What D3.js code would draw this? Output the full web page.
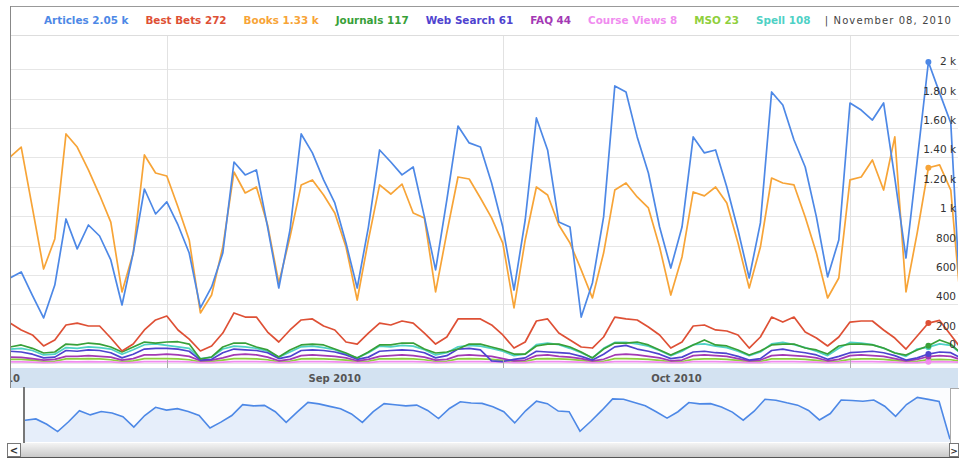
<!DOCTYPE html>
<html>
<head>
<meta charset="utf-8">
<script src="https://cdn.jsdelivr.net/npm/d3@7"></script>
<style>
body { margin: 0; background: #fff; }
svg { display: block; font-family: "DejaVu Sans", Verdana, sans-serif; }
</style>
</head>
<body>
<div id="container"></div>
<script>
let w = 959;
let h = 462;

// daily values, one row per week (Wed .. Tue), Aug 18 - Nov 11 2010
let articles = [579, 620, 460, 307, 531, 981, 777,
  940, 865, 702, 395, 749, 1185, 1015,
  1097, 940, 749, 375, 518, 749, 1369,
  1281, 1315, 926, 511, 906, 1560, 1431,
  1247, 1090, 817, 511, 926, 1451, 1369,
  1281, 1335, 995, 634, 1110, 1614, 1499,
  1471, 1226, 926, 497, 974, 1669, 1451,
  960, 926, 313, 545, 995, 1887, 1846,
  1540, 1294, 926, 647, 926, 1540, 1431,
  1451, 1199, 906, 579, 954, 1846, 1757,
  1519, 1335, 995, 586, 838, 1771, 1723,
  1655, 1771, 1260, 715, 1380, 2050, 1840,
  1635, 200];
let bestBets = [272, 225, 191, 116, 157, 259, 272,
  252, 252, 170, 82, 129, 225, 293,
  320, 225, 163, 82, 116, 204, 341,
  313, 313, 211, 143, 225, 293, 300,
  252, 225, 143, 129, 204, 272, 259,
  286, 272, 204, 129, 177, 300, 300,
  300, 259, 191, 102, 143, 286, 300,
  204, 157, 109, 102, 177, 313, 300,
  293, 245, 191, 102, 143, 252, 259,
  225, 218, 191, 102, 177, 313, 279,
  313, 211, 170, 116, 177, 279, 286,
  286, 225, 170, 95, 184, 272, 290,
  191, 90];
let books = [1403, 1471, 1056, 640, 845, 1560, 1471,
  1315, 1144, 960, 484, 749, 1417, 1294,
  1274, 1063, 838, 341, 463, 790, 1301,
  1158, 1199, 940, 545, 858, 1213, 1247,
  1144, 1022, 790, 429, 838, 1213, 1151,
  1219, 1022, 988, 484, 886, 1267, 1253,
  1124, 988, 817, 375, 838, 1199, 1144,
  940, 817, 634, 443, 749, 1178, 1226,
  1131, 1056, 790, 463, 722, 1165, 1138,
  1199, 1090, 817, 511, 790, 1260, 1226,
  1213, 995, 749, 443, 579, 1247, 1267,
  1383, 1178, 1540, 484, 886, 1330, 1349,
  1178, 300];
let journals = [109, 123, 100, 68, 75, 129, 123,
  136, 129, 109, 75, 109, 143, 136,
  143, 145, 129, 27, 41, 109, 136,
  136, 109, 89, 41, 89, 123, 129,
  123, 95, 68, 34, 75, 123, 123,
  136, 136, 95, 68, 75, 95, 129,
  129, 109, 89, 61, 61, 116, 129,
  129, 109, 75, 34, 95, 136, 136,
  143, 123, 89, 54, 89, 123, 157,
  123, 116, 89, 54, 82, 123, 129,
  129, 102, 89, 61, 116, 129, 129,
  123, 102, 68, 54, 89, 117, 157,
  129, 60];
let webSearch = [80, 75, 60, 35, 40, 85, 80,
  90, 85, 70, 35, 60, 95, 100,
  100, 95, 80, 20, 25, 70, 95,
  90, 85, 70, 30, 45, 85, 90,
  85, 75, 55, 25, 40, 80, 85,
  90, 85, 70, 35, 50, 95, 100,
  90, 15, 10, 25, 35, 80, 75,
  70, 65, 45, 20, 60, 110, 120,
  95, 80, 60, 30, 40, 75, 80,
  70, 65, 45, 20, 30, 85, 95,
  80, 70, 55, 25, 45, 70, 75,
  80, 70, 50, 20, 35, 61, 75,
  70, 30];
let faq = [40, 38, 30, 20, 25, 45, 45,
  50, 45, 40, 20, 30, 55, 55,
  60, 55, 45, 15, 20, 35, 55,
  60, 55, 40, 15, 25, 50, 55,
  50, 45, 35, 15, 25, 45, 50,
  55, 50, 40, 20, 25, 50, 55,
  50, 45, 30, 15, 20, 50, 55,
  45, 40, 30, 15, 25, 55, 60,
  55, 45, 35, 15, 20, 50, 55,
  50, 45, 30, 15, 20, 50, 55,
  50, 45, 35, 15, 25, 50, 55,
  50, 45, 30, 15, 25, 44, 50,
  45, 20];
let courseViews = [8, 7, 6, 3, 4, 9, 8,
  9, 8, 7, 3, 4, 10, 9,
  10, 9, 7, 2, 3, 6, 9,
  10, 9, 7, 3, 4, 9, 10,
  9, 8, 6, 2, 3, 9, 9,
  10, 9, 7, 3, 4, 9, 10,
  9, 8, 6, 2, 3, 10, 9,
  9, 8, 6, 2, 4, 10, 10,
  9, 8, 6, 2, 3, 9, 9,
  9, 8, 6, 2, 3, 9, 10,
  9, 8, 6, 3, 4, 9, 9,
  9, 8, 6, 2, 3, 8, 9,
  8, 4];
let mso = [25, 25, 20, 10, 12, 28, 28,
  30, 28, 22, 10, 15, 30, 30,
  30, 28, 22, 8, 10, 20, 30,
  30, 28, 22, 8, 12, 28, 30,
  28, 25, 20, 8, 12, 28, 28,
  30, 28, 22, 10, 12, 28, 30,
  28, 25, 18, 8, 10, 28, 30,
  28, 25, 18, 8, 12, 30, 30,
  28, 25, 18, 8, 10, 25, 28,
  28, 25, 18, 8, 10, 28, 28,
  28, 25, 18, 8, 12, 25, 28,
  28, 25, 18, 8, 12, 23, 25,
  22, 10];
let spell = [95, 100, 85, 55, 60, 105, 100,
  110, 105, 95, 60, 90, 125, 130,
  120, 110, 100, 30, 40, 95, 115,
  110, 100, 80, 40, 75, 110, 115,
  105, 90, 60, 35, 70, 115, 110,
  120, 115, 90, 55, 70, 110, 120,
  115, 100, 80, 50, 60, 125, 135,
  125, 100, 70, 35, 100, 140, 140,
  130, 115, 85, 50, 80, 125, 130,
  115, 105, 80, 50, 75, 130, 140,
  125, 105, 80, 50, 100, 140, 135,
  125, 100, 70, 45, 95, 108, 130,
  120, 60];

let seriesNames = ["Articles", "Best Bets", "Books", "Journals", "Web Search", "FAQ", "Course Views", "MSO", "Spell"];
let seriesColors = ["#4d88e6", "#de5035", "#f7a437", "#38a038", "#4f43cf", "#a339b4", "#f08cef", "#8fcf3c", "#4fd1c5"];
let seriesValues = [articles, bestBets, books, journals, webSearch, faq, courseViews, mso, spell];

let yTicks = [0, 200, 400, 600, 800, 1000, 1200, 1400, 1600, 1800, 2000];
let yTickLabels = ["0", "200", "400", "600", "800", "1 k", "1.20 k", "1.40 k", "1.60 k", "1.80 k", "2 k"];

let firstDay = new Date(Date.UTC(2010, 7, 18));
let endDay = new Date(Date.UTC(2010, 10, 12));
let selectedDay = new Date(Date.UTC(2010, 10, 8));
let days = d3.utcDay.range(firstDay, endDay);
let selIndex = days.findIndex(d => +d === +selectedDay);

let plotLeft = 10, plotRight = 958, plotTop = 36, plotBottom = 368;

let viz = d3.select("#container")
  .append("svg")
    .attr("width", w)
    .attr("height", h)
    .style("background-color", "white");

let xScale = d3.scaleUtc().domain([firstDay, endDay]).range([plotLeft, plotLeft + days.length * 11.2]);
let yScale = d3.scaleLinear().domain([0, 2200]).range([363, 40]);

function fmtValue(v) {
  if (v >= 1000) {
    let k = v / 1000;
    return (Number.isInteger(k) ? k : k.toFixed(2)) + " k";
  }
  return String(v);
}

// legend box frame
viz.append("line").attr("x1", plotLeft).attr("x2", w).attr("y1", 6.5).attr("y2", 6.5).attr("stroke", "#999");
viz.append("line").attr("x1", plotLeft).attr("x2", w).attr("y1", 35.5).attr("y2", 35.5).attr("stroke", "#ddd");

// gridlines
viz.append("g").selectAll("line").data(yTicks).enter()
  .append("line")
    .attr("x1", plotLeft).attr("x2", plotRight)
    .attr("y1", d => Math.round(yScale(d)) + 0.5)
    .attr("y2", d => Math.round(yScale(d)) + 0.5)
    .attr("stroke", "#e6e6e6");

let monthStarts = d3.utcMonth.range(new Date(Date.UTC(2010, 7, 1)), new Date(Date.UTC(2010, 11, 1)));
let innerMonths = monthStarts.filter(m => xScale(m) > plotLeft && xScale(m) < plotRight);
viz.append("g").selectAll("line").data(innerMonths).enter()
  .append("line")
    .attr("x1", d => Math.round(xScale(d)) + 0.5).attr("x2", d => Math.round(xScale(d)) + 0.5)
    .attr("y1", plotTop).attr("y2", plotBottom)
    .attr("stroke", "#e2e2e2");

// clip for the lines
viz.append("clipPath").attr("id", "plotclip")
  .append("rect").attr("x", plotLeft).attr("y", plotTop).attr("width", plotRight - plotLeft).attr("height", plotBottom - plotTop);

let line = d3.line()
  .x((v, i) => xScale(days[i]))
  .y(v => yScale(v));

let order = d3.range(seriesNames.length).reverse();
let lines = viz.append("g").attr("clip-path", "url(#plotclip)");
lines.selectAll("path").data(order).enter()
  .append("path")
    .attr("d", i => line(seriesValues[i]))
    .attr("fill", "none")
    .attr("stroke", i => seriesColors[i])
    .attr("stroke-width", 1.7)
    .attr("stroke-linejoin", "round");

// y labels on the right
viz.append("g").selectAll("text").data(yTicks).enter()
  .append("text")
    .attr("x", 956)
    .attr("y", d => Math.min(yScale(d) - 4, 348))
    .attr("text-anchor", "end")
    .attr("font-size", 10.5)
    .attr("fill", "#333")
    .text((d, i) => yTickLabels[i]);

// dots for the selected day
lines.selectAll("circle").data(order).enter()
  .append("circle")
    .attr("cx", xScale(selectedDay))
    .attr("cy", i => yScale(seriesValues[i][selIndex]))
    .attr("r", 3)
    .attr("fill", i => seriesColors[i]);

// month ticks
viz.append("g").selectAll("line").data(innerMonths).enter()
  .append("line")
    .attr("x1", d => Math.round(xScale(d)) + 0.5).attr("x2", d => Math.round(xScale(d)) + 0.5)
    .attr("y1", 360).attr("y2", 369)
    .attr("stroke", "#aaa");

// x axis band
viz.append("rect").attr("x", plotLeft).attr("y", 368).attr("width", plotRight - plotLeft).attr("height", 20).attr("fill", "#d3e2f1");
viz.append("clipPath").attr("id", "bandclip")
  .append("rect").attr("x", plotLeft).attr("y", 368).attr("width", plotRight - plotLeft).attr("height", 20);
let monthMid = d => xScale(new Date((+d + +d3.utcMonth.offset(d, 1)) / 2));
viz.append("g").attr("clip-path", "url(#bandclip)")
  .selectAll("text").data(monthStarts.filter(d => monthMid(d) < plotRight)).enter()
  .append("text")
    .attr("x", monthMid)
    .attr("y", 382)
    .attr("text-anchor", "middle")
    .attr("font-size", 10)
    .attr("font-weight", "bold")
    .attr("fill", "#555")
    .text(d3.utcFormat("%b %Y"));

viz.append("line").attr("x1", plotLeft + 0.5).attr("x2", plotLeft + 0.5).attr("y1", 6).attr("y2", 388).attr("stroke", "#888");

// overview (range selector)
let mx = d3.scaleUtc().domain([days[0], days[days.length - 1]]).range([25, 950]);
let my = d3.scaleLog().domain([300, 2100]).range([432, 397]);
viz.append("rect").attr("x", 25).attr("y", 388).attr("width", 925).attr("height", 54).attr("fill", "#fbfcfe");
viz.append("path")
  .attr("d", d3.area().x((v, i) => mx(days[i])).y0(442).y1(v => my(v))(articles))
  .attr("fill", "#e6eefa");
viz.append("path")
  .attr("d", d3.line().x((v, i) => mx(days[i])).y(v => my(v))(articles))
  .attr("fill", "none")
  .attr("stroke", "#4d88e6")
  .attr("stroke-width", 1.6);
viz.append("line").attr("x1", 24).attr("x2", 24).attr("y1", 387).attr("y2", 447).attr("stroke", "#777").attr("stroke-width", 2);
viz.append("rect").attr("x", 950.5).attr("y", 388.5).attr("width", 10).attr("height", 56).attr("fill", "white").attr("stroke", "#aaa");

// scrollbar
let grad = viz.append("defs").append("linearGradient").attr("id", "sb").attr("x1", 0).attr("x2", 0).attr("y1", 0).attr("y2", 1);
grad.append("stop").attr("offset", "0%").attr("stop-color", "#f4f4f4");
grad.append("stop").attr("offset", "100%").attr("stop-color", "#c9c9c9");
viz.append("rect").attr("x", 7).attr("y", 443).attr("width", 952).attr("height", 14).attr("fill", "url(#sb)");
viz.append("line").attr("x1", 7).attr("x2", w).attr("y1", 457.5).attr("y2", 457.5).attr("stroke", "#555");
viz.append("rect").attr("x", 7.5).attr("y", 443.5).attr("width", 13).attr("height", 13).attr("fill", "white").attr("stroke", "#777");
viz.append("text").attr("x", 14).attr("y", 454).attr("text-anchor", "middle").attr("font-size", 10).attr("font-weight", "bold").attr("fill", "#333").text("<");
viz.append("rect").attr("x", 949.5).attr("y", 443.5).attr("width", 9).attr("height", 13).attr("fill", "white").attr("stroke", "#777");
viz.append("text").attr("x", 954).attr("y", 453.5).attr("text-anchor", "middle").attr("font-size", 9).attr("font-weight", "bold").attr("fill", "#333").text(">");

// legend
let lx = 44;
seriesNames.forEach((name, i) => {
  let t = viz.append("text")
    .attr("x", lx)
    .attr("y", 24)
    .attr("font-size", 10.4)
    .attr("font-weight", "bold")
    .attr("fill", seriesColors[i])
    .text(name + " " + fmtValue(seriesValues[i][selIndex]));
  lx += t.node().getComputedTextLength() + 17;
});
viz.append("text")
  .attr("x", 952)
  .attr("y", 24)
  .attr("text-anchor", "end")
  .attr("font-size", 10)
  .attr("letter-spacing", 1.1)
  .attr("fill", "#444")
  .text("| " + d3.utcFormat("%B %d, %Y")(selectedDay));
</script>
</body>
</html>
